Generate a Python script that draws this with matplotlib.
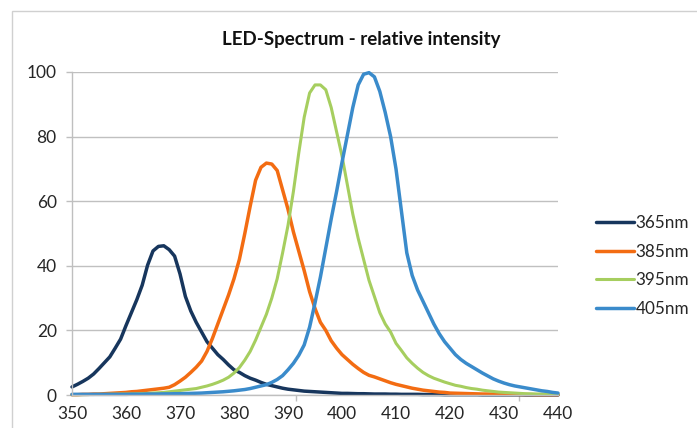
import matplotlib
matplotlib.use("Agg")
import matplotlib.pyplot as plt
from matplotlib.patches import Rectangle
import numpy as np

plt.rcParams['font.family'] = ['Lato', 'DejaVu Sans']

# Wellenlänge in nm, 1-nm-Schritte
wavelength = list(range(350, 441))

led_365 = [2.5, 3.3, 4.2, 5.2, 6.5, 8.2, 10.0, 11.8, 14.5, 17.3,
           21.5, 25.5, 29.5, 34.0, 40.2, 44.6, 46.0, 46.2, 45.0, 43.0,
           37.5, 30.5, 26.0, 22.5, 19.5, 16.5, 14.5, 12.5, 11.0, 9.3,
           7.8, 7.0, 6.0, 5.2, 4.6, 3.9, 3.3, 2.9, 2.5, 2.1,
           1.8, 1.6, 1.4, 1.2, 1.1, 1.0, 0.9, 0.8, 0.7, 0.6,
           0.5, 0.5, 0.45, 0.4, 0.4, 0.35, 0.3, 0.3, 0.3, 0.25,
           0.25, 0.2, 0.2, 0.2, 0.2, 0.15, 0.15, 0.15, 0.15, 0.1,
           0.1, 0.1, 0.1, 0.1, 0.1, 0.1, 0.05, 0.05, 0.05, 0.05,
           0.05, 0.05, 0.05, 0.05, 0.0, 0.0, 0.0, 0.0, 0.0, 0.0, 0.0]

led_385 = [0.1, 0.1, 0.2, 0.2, 0.3, 0.3, 0.4, 0.5, 0.6, 0.7,
           0.8, 1.0, 1.1, 1.3, 1.5, 1.7, 1.9, 2.1, 2.4, 3.2,
           4.3, 5.5, 7.0, 8.6, 10.5, 13.5, 17.5, 22.0, 26.5, 31.0,
           36.0, 42.0, 50.0, 58.5, 66.5, 70.5, 71.8, 71.5, 69.5, 63.5,
           57.5, 50.5, 44.5, 38.5, 32.0, 26.8, 22.5, 20.0, 16.8, 14.5,
           12.5, 11.0, 9.5, 8.2, 7.0, 6.1, 5.6, 5.0, 4.4, 3.8,
           3.3, 2.9, 2.5, 2.1, 1.8, 1.5, 1.3, 1.1, 0.9, 0.8,
           0.6, 0.55, 0.5, 0.45, 0.4, 0.35, 0.3, 0.3, 0.25, 0.25,
           0.2, 0.2, 0.2, 0.15, 0.15, 0.15, 0.1, 0.1, 0.1, 0.1, 0.1]

led_395 = [0.1, 0.1, 0.1, 0.15, 0.15, 0.2, 0.2, 0.25, 0.25, 0.3,
           0.3, 0.35, 0.4, 0.45, 0.5, 0.6, 0.7, 0.8, 1.0, 1.2,
           1.4, 1.6, 1.8, 2.0, 2.4, 2.8, 3.3, 3.9, 4.6, 5.5,
           6.8, 8.5, 10.8, 13.5, 17.0, 21.0, 25.0, 30.0, 36.0, 44.0,
           52.5, 63.0, 75.0, 86.0, 93.5, 96.0, 96.0, 94.5, 89.0, 81.5,
           74.0, 65.0, 56.0, 48.5, 42.0, 35.5, 30.5, 25.5, 22.0, 19.5,
           16.0, 13.8, 11.5, 9.8, 8.3, 7.0, 6.0, 5.2, 4.6, 4.0,
           3.5, 3.0, 2.7, 2.3, 2.0, 1.8, 1.5, 1.3, 1.1, 0.9,
           0.8, 0.7, 0.6, 0.5, 0.4, 0.35, 0.3, 0.3, 0.25, 0.2, 0.2]

led_405 = [0.2, 0.2, 0.2, 0.2, 0.2, 0.2, 0.2, 0.2, 0.2, 0.2,
           0.2, 0.25, 0.25, 0.25, 0.3, 0.3, 0.3, 0.35, 0.35, 0.4,
           0.4, 0.45, 0.5, 0.55, 0.6, 0.7, 0.8, 0.9, 1.0, 1.15,
           1.3, 1.5, 1.7, 2.0, 2.4, 2.8, 3.2, 3.9, 4.8, 6.0,
           7.8, 9.8, 12.3, 15.5, 21.0, 28.5, 36.5, 45.5, 54.5, 63.0,
           72.0, 80.5, 89.0, 96.0, 99.3, 99.8, 98.5, 94.0, 87.5, 80.0,
           70.0, 57.0, 44.0, 37.0, 32.5, 29.0, 25.5, 22.0, 19.0, 16.5,
           14.5, 12.5, 11.0, 9.8, 8.8, 7.8, 6.8, 5.9, 5.0, 4.3,
           3.7, 3.2, 2.8, 2.5, 2.2, 1.9, 1.6, 1.3, 1.1, 0.8, 0.6]

series = [
    ("365nm", led_365, "#17365D"),
    ("385nm", led_385, "#F36C12"),
    ("395nm", led_395, "#A6CE5F"),
    ("405nm", led_405, "#3A8BCB"),
]

x_labels = list(range(350, 441, 10))
x_tickmarks = [350, 391.4, 432.8]
y_labels = list(range(0, 101, 20))

fig = plt.figure(figsize=(6.97, 4.28), dpi=100)
ax = fig.add_axes([72 / 697, 1 - 395 / 428, (558 - 72) / 697, (395 - 72) / 428])

# Rahmen des Diagrammbereichs (rechts/unten abgeschnitten)
fig.patches.append(Rectangle((12 / 697, -0.05), 1.2, 1 - 11 / 428 + 0.05,
                             transform=fig.transFigure, fill=False,
                             edgecolor="#D0D0D0", linewidth=1.0))

for name, values, color in series:
    lw = 2.2 if name == "395nm" else 2.5
    ax.plot(wavelength, values, color=color, linewidth=lw, label=name,
            solid_joinstyle="round", solid_capstyle="round", clip_on=False)

ax.set_xlim(350, 440)
ax.set_ylim(0, 100)
ax.set_xticks(x_labels)
ax.set_xticks(x_tickmarks, minor=True)
ax.set_yticks(y_labels)
ax.tick_params(axis="x", which="major", length=0, pad=8, labelsize=12.5, labelcolor="#262626")
ax.tick_params(axis="x", which="minor", length=4, width=1, color="#BFBFBF", direction="out")
ax.tick_params(axis="y", length=4, width=1, color="#BFBFBF", pad=7, labelsize=12.5, labelcolor="#262626")

ax.grid(axis="y", color="#C0C0C0", linewidth=1.0)
ax.set_axisbelow(True)
for side in ["top", "right"]:
    ax.spines[side].set_visible(False)
for side in ["left", "bottom"]:
    ax.spines[side].set_color("#BFBFBF")
    ax.spines[side].set_linewidth(1.0)

fig.text(361 / 697, 1 - 40 / 428, "LED-Spectrum - relative intensity",
         ha="center", va="center", fontsize=13.5, fontweight="bold", color="#111111")

fig.legend(loc="center left", bbox_to_anchor=(596 / 697, 1 - 266 / 428),
           frameon=False, fontsize=12.3, handlelength=2.2, handletextpad=0.12,
           labelspacing=0.75, borderpad=0, borderaxespad=0, labelcolor="#262626")

plt.savefig("out.png", dpi=100)
plt.close()
